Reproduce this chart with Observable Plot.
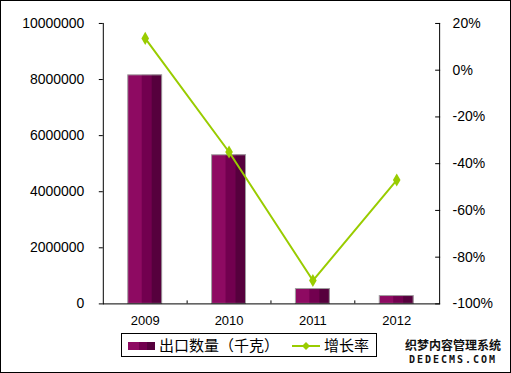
<!DOCTYPE html>
<html>
<head>
<meta charset="utf-8">
<script src="https://cdn.jsdelivr.net/npm/d3@7"></script>
<script src="https://cdn.jsdelivr.net/npm/@observablehq/plot@0.6"></script>
<style>
  html, body { margin: 0; padding: 0; background: #fff; }
  #wrap { position: relative; width: 511px; height: 373px; box-sizing: border-box; border: 1px solid #000; overflow: hidden; background: #fff; }
  #chart { position: absolute; left: -1px; top: -1px; }
  #legend { position: absolute; left: 120px; top: 332px; width: 256px; height: 24px; box-sizing: border-box; border: 1px solid #000; background: #fff;
    font-family: "Noto Sans CJK SC", "Liberation Sans", sans-serif; font-size: 15px; line-height: 22px; color: #000; }
  .item { position: absolute; top: 0; white-space: nowrap; }
  .sw { position: absolute; display: flex; box-sizing: border-box; }
  .wm { position: absolute; left: 400px; width: 104px; text-align: center; color: #111; font-weight: bold; white-space: nowrap; }
</style>
</head>
<body>
<div id="wrap">
  <div id="chart"></div>
  <div id="legend"></div>
  <div class="wm" id="wm1" style="top:337px;height:14px;line-height:14px;font-size:12px;font-family:'Noto Sans CJK SC',sans-serif;"></div>
  <div class="wm" id="wm2" style="top:353px;height:11px;line-height:11px;font-size:10px;letter-spacing:2px;font-family:'DejaVu Sans Mono',monospace;"></div>
</div>
<script>
// ---- data ----
const years = ["2009", "2010", "2011", "2012"];
const exportQty = [8150000, 5300000, 530000, 280000];   // 出口数量（千克）
const growthPct = [13.6, -35, -90, -47];               // 增长率 (%)
const leftTicks = [0, 2000000, 4000000, 6000000, 8000000, 10000000];
const rightTicks = [20, 0, -20, -40, -60, -80, -100];
const seriesNames = ["出口数量（千克）", "增长率"];
const watermark = ["织梦内容管理系统", "DEDECMS.COM"];

const barColors = ["#8E0A62", "#72004F", "#56003D"];
const lineColor = "#99CC00";

const data = years.map((year, i) => ({year, qty: exportQty[i], pct: growthPct[i]}));
// map the right (percent) axis onto the left scale's domain
const pctToY = p => (p + 100) / 120 * 10000000;
const yToPct = v => Math.round(v / 10000000 * 120 - 100);

const chart = Plot.plot({
  width: 511,
  height: 332,
  marginLeft: 103,
  marginRight: 71,
  marginTop: 23,
  marginBottom: 28,
  style: {fontFamily: "'Liberation Sans', Arial, sans-serif", fontSize: "14px", background: "transparent", overflow: "visible"},
  x: {type: "band", domain: years, paddingInner: 0.59, paddingOuter: 0.295, label: null},
  y: {domain: [0, 10000000], label: null},
  marks: [
    Plot.barY(data, {x: "year", y: "qty", fill: barColors[0]}),
    Plot.barY(data, {x: "year", y: "qty", fill: barColors[1], insetLeft: 14}),
    Plot.barY(data, {x: "year", y: "qty", fill: barColors[2], insetLeft: 24}),
    Plot.barY(data, {x: "year", y: "qty", fill: "none", stroke: "#a0a0a0", strokeWidth: 1}),
    Plot.ruleY([0], {stroke: "#000"}),
    Plot.frame({anchor: "left", stroke: "#000"}),
    Plot.frame({anchor: "right", stroke: "#000"}),
    Plot.ruleX(years.slice(0, -1), {x: d => d, dx: 42, y1: 0, y2: 0, insetTop: -3, stroke: "#000"}),
    Plot.axisY(leftTicks, {anchor: "left", tickSize: 4, tickPadding: 15, tickFormat: d => String(d), fontSize: 14}),
    Plot.axisY(rightTicks.map(pctToY), {anchor: "right", tickSize: -5, tickPadding: 18, tickFormat: d => yToPct(d) + "%", fontSize: 14}),
    Plot.axisX({tickSize: 0, tickPadding: 12, fontSize: 13}),
    Plot.lineY(data, {x: "year", y: d => pctToY(d.pct), stroke: lineColor, strokeWidth: 2}),
    Plot.dot(data, {x: "year", y: d => pctToY(d.pct), symbol: "diamond", r: 4, fill: lineColor, stroke: "none"})
  ]
});
document.getElementById("chart").appendChild(chart);

// ---- legend ----
const legend = document.getElementById("legend");
const sw1 = document.createElement("div");
sw1.className = "sw";
sw1.style.cssText = "left:6px;top:8px;width:27px;height:8px;";
[11, 8, 8].forEach((w, i) => {
  const s = document.createElement("div");
  s.style.cssText = `width:${w}px;height:8px;background:${barColors[i]};`;
  sw1.appendChild(s);
});
legend.appendChild(sw1);
const t1 = document.createElement("div");
t1.className = "item"; t1.style.left = "37px"; t1.textContent = seriesNames[0];
legend.appendChild(t1);
const sw2 = document.createElementNS("http://www.w3.org/2000/svg", "svg");
sw2.setAttribute("width", "30"); sw2.setAttribute("height", "22");
sw2.style.cssText = "position:absolute;left:170px;top:0;";
sw2.innerHTML = `<line x1="0" y1="12" x2="28" y2="12" stroke="${lineColor}" stroke-width="2"/><path d="M14,8 L18,12 L14,16 L10,12 Z" fill="${lineColor}"/>`;
legend.appendChild(sw2);
const t2 = document.createElement("div");
t2.className = "item"; t2.style.left = "202px"; t2.textContent = seriesNames[1];
legend.appendChild(t2);

// ---- watermark ----
document.getElementById("wm1").textContent = watermark[0];
document.getElementById("wm2").textContent = watermark[1];
</script>
</body>
</html>
